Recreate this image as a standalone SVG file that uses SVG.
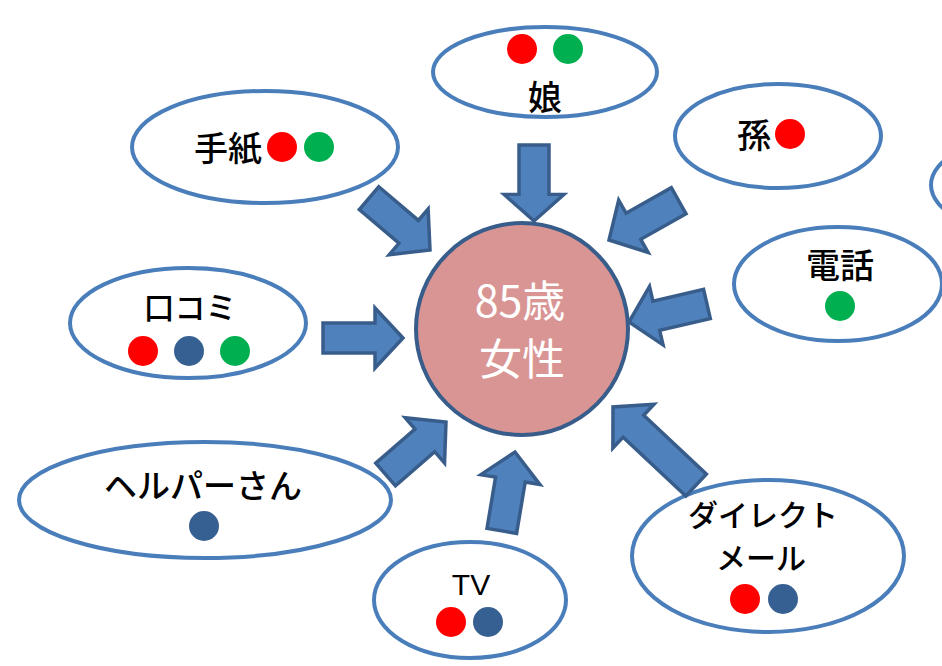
<svg xmlns="http://www.w3.org/2000/svg" xmlns:xlink="http://www.w3.org/1999/xlink" width="942" height="666" viewBox="0 0 942 666">
<style>
.node{fill:#FFFFFF;stroke:#4A7EBB;stroke-width:4}
.lbl{font-family:"Noto Sans CJK JP","Liberation Sans",sans-serif;font-size:31px;font-weight:500;fill:#000000;text-anchor:middle}
.kj{font-size:34px}
.ctr{font-family:"Noto Sans CJK JP","Liberation Sans",sans-serif;font-size:43px;fill:#FFFFFF;text-anchor:middle}
.arr{fill:#4F81BD;stroke:#385D8A;stroke-width:3.5;stroke-linejoin:miter}
.r{fill:#FF0000}.g{fill:#00B050}.b{fill:#376092}
</style>
<defs>
<path id="arrow" d="M-80,-15 L-28,-15 L-28,-30 L0,0 L-28,30 L-28,15 L-80,15 Z"/>
<path id="arrowLong" d="M-114,-15 L-28,-15 L-28,-30 L0,0 L-28,30 L-28,15 L-114,15 Z"/>
</defs>
<rect width="942" height="666" fill="#FFFFFF"/>
<g id="node-partial"><ellipse class="node" cx="1036" cy="185" rx="105" ry="50"/></g>
<g id="node-musume">
<ellipse class="node" cx="545" cy="72" rx="112" ry="45"/>
<circle class="r" cx="522" cy="49" r="15"/><circle class="g" cx="568" cy="49" r="15"/>
<text class="lbl kj" x="545" y="110">娘</text>
</g>
<g id="node-tegami">
<ellipse class="node" cx="265" cy="147" rx="133" ry="56"/>
<text class="lbl kj" x="228" y="161">手紙</text>
<circle class="r" cx="282" cy="147" r="15"/><circle class="g" cx="319" cy="147" r="15"/>
</g>
<g id="node-mago">
<ellipse class="node" cx="778" cy="136" rx="103" ry="52"/>
<text class="lbl kj" x="754" y="148">孫</text>
<circle class="r" cx="790" cy="134" r="15"/>
</g>
<g id="node-denwa">
<ellipse class="node" cx="838" cy="284" rx="104" ry="57"/>
<text class="lbl kj" x="840" y="278">電話</text>
<circle class="g" cx="840" cy="306" r="15"/>
</g>
<g id="node-kuchikomi">
<ellipse class="node" cx="188" cy="323" rx="118" ry="55"/>
<text class="lbl" x="190" y="319">口コミ</text>
<circle class="r" cx="143" cy="351" r="15"/><circle class="b" cx="189" cy="351" r="15"/><circle class="g" cx="235" cy="351" r="15"/>
</g>
<g id="node-helper">
<ellipse class="node" cx="205" cy="500" rx="186" ry="58"/>
<text class="lbl" x="203" y="498" style="font-size:33px">ヘルパーさん</text>
<circle class="b" cx="204" cy="526" r="15"/>
</g>
<g id="node-tv">
<ellipse class="node" cx="470" cy="600" rx="96" ry="58"/>
<text class="lbl" x="471" y="595" style="font-family:'Liberation Sans',sans-serif;font-size:30px;font-weight:normal">TV</text>
<circle class="r" cx="451" cy="622" r="15"/><circle class="b" cx="488" cy="622" r="15"/>
</g>
<g id="node-dm">
<ellipse class="node" cx="768" cy="556" rx="136" ry="76"/>
<text class="lbl" x="763" y="526" style="font-size:30px">ダイレクト</text>
<text class="lbl" x="761" y="569" style="font-size:30px">メール</text>
<circle class="r" cx="745" cy="599" r="15"/><circle class="b" cx="783" cy="599" r="15"/>
</g>
<g id="connectors">
<use xlink:href="#arrow" class="arr" transform="translate(534,221) rotate(90) scale(0.95,1)"/>
<use xlink:href="#arrow" class="arr" transform="translate(430,250) rotate(40.4)"/>
<use xlink:href="#arrow" class="arr" transform="translate(609,240) rotate(150.6)"/>
<use xlink:href="#arrow" class="arr" transform="translate(629,322) rotate(167)"/>
<use xlink:href="#arrow" class="arr" transform="translate(403,338)"/>
<use xlink:href="#arrow" class="arr" transform="translate(446,422) rotate(-41)"/>
<use xlink:href="#arrow" class="arr" transform="translate(515,452) rotate(-80.5)"/>
<use xlink:href="#arrowLong" class="arr" transform="translate(613,407) rotate(-136.8)"/>
</g>
<g id="node-center">
<circle cx="522" cy="329" r="106" fill="#D99594" stroke="#385D8A" stroke-width="4"/>
<text class="ctr" x="520" y="317">85歳</text>
<text class="ctr" x="522" y="375">女性</text>
</g>
</svg>
